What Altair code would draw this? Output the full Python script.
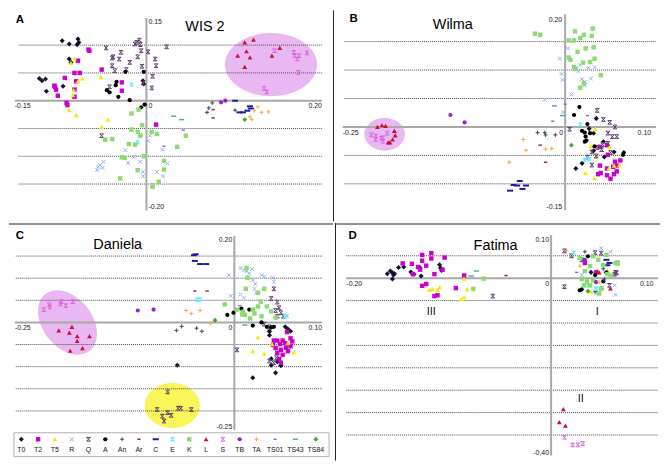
import altair as alt
import pandas as pd

CATS = ["T0", "T2", "T5", "R", "Q", "A", "An", "Ar", "C", "E", "K", "L", "S",
        "TB", "TA", "TS01", "TS43", "TS84"]

# ---------------- data (PC1, PC2 scores) ----------------
A_PTS = {
    "T0": [(-0.096, 0.108), (-0.088, 0.102), (-0.078, 0.111), (-0.077, 0.105), (-0.079, 0.101),
           (-0.088, 0.075), (-0.086, 0.069), (-0.122, 0.040), (-0.119, 0.036), (-0.115, 0.039),
           (-0.114, 0.017), (-0.095, 0.026), (-0.004, 0.036), (-0.003, 0.030)],
    "T2": [(-0.066, 0.092), (-0.065, 0.090), (-0.078, 0.072), (-0.082, 0.050), (-0.076, 0.050),
           (-0.093, 0.041), (-0.105, 0.027), (-0.104, 0.025), (-0.103, 0.020), (-0.101, 0.009),
           (-0.091, -0.004), (-0.090, -0.008), (-0.080, 0.035), (-0.082, 0.020), (-0.082, 0.007),
           (-0.051, 0.056), (-0.028, 0.033), (-0.028, 0.018), (0.011, -0.043)],
    "T5": [(-0.082, 0.076), (-0.086, 0.068), (-0.073, 0.040), (-0.052, 0.043), (-0.078, 0.035),
           (-0.083, 0.019), (-0.084, 0.010), (-0.088, -0.017), (-0.080, -0.026), (-0.044, -0.034),
           (-0.051, -0.047)],
    "R": [(-0.049, -0.110), (-0.053, -0.116), (-0.055, -0.119), (-0.056, -0.125), (-0.050, -0.121),
          (-0.024, -0.089), (-0.014, -0.101), (-0.021, -0.112), (-0.007, -0.110), (-0.002, -0.099),
          (0.002, -0.073), (0.004, -0.063), (0.012, -0.128), (-0.004, -0.128), (-0.004, -0.136),
          (0.019, -0.136), (0.024, -0.113), (0.007, -0.151), (0.018, -0.088)],
    "Q": [(-0.046, 0.095), (-0.029, 0.087), (-0.038, 0.079), (-0.039, 0.077), (-0.031, 0.075),
          (-0.019, 0.069), (-0.011, 0.105), (-0.008, 0.109), (-0.007, 0.101), (-0.013, 0.102),
          (-0.006, 0.090), (0.002, 0.088), (-0.010, 0.079), (-0.005, 0.062), (0.010, 0.075),
          (0.011, 0.063), (0.007, 0.044), (-0.004, 0.032), (-0.036, 0.054), (-0.039, 0.063),
          (-0.023, 0.056), (0.006, 0.023), (-0.042, 0.025), (0.023, 0.097), (-0.051, -0.063)],
    "A": [(-0.045, 0.019), (-0.042, 0.015), (-0.035, 0.028), (-0.034, 0.034), (-0.032, 0.007),
          (-0.024, 0.052), (-0.019, 0.001), (-0.003, 0.052), (-0.006, -0.012), (-0.002, -0.007)],
    "An": [(0.075, -0.004), (0.071, -0.013), (0.069, -0.021), (0.101, -0.017)],
    "Ar": [(0.076, -0.016), (0.076, -0.031)],
    "C": [(0.101, 0.000), (0.118, -0.010), (0.119, -0.014), (0.106, -0.021), (0.110, -0.021),
          (0.115, -0.018)],
    "E": [(-0.017, 0.029), (-0.010, -0.075)],
    "K": [(-0.017, -0.023), (-0.009, -0.016), (-0.005, -0.044), (-0.017, -0.052), (-0.010, -0.056),
          (-0.007, -0.063), (-0.020, -0.078), (-0.013, -0.079), (0.006, -0.056), (0.012, -0.060),
          (0.045, -0.063), (0.035, -0.083), (-0.028, -0.102), (-0.025, -0.103), (-0.003, -0.100),
          (0.020, -0.108), (-0.010, -0.125), (-0.030, -0.140), (0.020, -0.124), (0.014, -0.146),
          (0.007, -0.155), (-0.039, -0.069), (-0.047, -0.070)],
    "L": [(0.112, 0.105), (0.122, 0.110), (0.114, 0.089), (0.104, 0.081), (0.118, 0.078),
          (0.143, 0.081), (0.152, 0.095), (0.112, 0.061)],
    "S": [(0.146, 0.090), (0.168, 0.087), (0.174, 0.081), (0.169, 0.081), (0.172, 0.075),
          (0.183, 0.086), (0.173, 0.051), (0.134, 0.022), (0.137, 0.016)],
    "TB": [(0.085, -0.003), (0.090, 0.000)],
    "TA": [(0.127, -0.011), (0.123, -0.018), (0.131, -0.021), (0.139, -0.020), (0.118, -0.029),
           (0.120, -0.034)],
    "TS01": [(0.042, -0.053), (0.020, -0.082)],
    "TS43": [(0.031, -0.028), (0.040, -0.034)],
    "TS84": [(0.112, -0.034)],
}

B_PTS = {
    "T0": [(0.035, 0.015), (0.032, -0.011), (0.043, -0.026), (0.032, -0.042), (0.019, -0.064),
           (0.012, -0.073), (0.055, -0.044), (0.044, -0.053), (0.027, -0.003), (0.066, -0.045)],
    "T2": [(0.039, -0.035), (0.047, -0.032), (0.048, -0.049), (0.056, -0.061), (0.062, -0.059),
           (0.054, -0.070), (0.058, -0.068), (0.047, -0.073), (0.058, -0.078), (0.039, -0.068),
           (0.037, -0.083), (0.040, -0.081), (0.047, -0.085), (0.051, -0.091), (0.055, -0.083)],
    "T5": [(0.034, -0.004), (0.029, -0.034), (0.050, -0.035), (0.061, -0.067), (0.049, -0.073),
           (0.023, -0.081), (0.035, -0.052), (0.055, -0.068), (0.033, -0.090)],
    "R": [(0.003, 0.138), (-0.006, 0.120), (-0.004, 0.093), (-0.003, 0.083), (0.017, 0.109),
          (0.026, 0.104), (0.033, 0.105), (0.015, 0.098), (0.019, 0.084), (0.022, 0.079),
          (0.022, 0.073), (0.029, 0.085), (0.007, 0.057), (-0.023, 0.048), (-0.002, 0.026)],
    "Q": [(0.036, 0.029), (0.043, 0.013), (0.050, 0.008), (0.056, 0.000), (0.005, -0.004),
          (0.048, -0.011), (0.053, -0.017), (0.058, -0.017), (0.042, -0.031), (0.048, -0.029),
          (0.036, -0.036), (0.041, -0.040), (0.030, -0.044), (0.035, -0.051), (0.025, -0.053),
          (0.030, -0.067), (0.051, -0.045)],
    "A": [(0.016, 0.035), (0.010, 0.021), (0.025, 0.005), (0.019, -0.007), (0.022, -0.010),
          (0.023, -0.017), (0.024, -0.024), (0.022, -0.026), (0.028, -0.011), (0.033, -0.034),
          (0.065, -0.049)],
    "An": [(-0.031, -0.010), (-0.023, -0.010), (-0.022, -0.014), (-0.011, -0.014)],
    "Ar": [(-0.028, -0.032), (-0.022, -0.062)],
    "C": [(-0.051, -0.095), (-0.058, -0.102), (-0.054, -0.103), (-0.044, -0.103), (-0.062, -0.112),
          (-0.048, -0.109)],
    "E": [(0.017, 0.004), (0.022, -0.058), (0.027, -0.056)],
    "K": [(-0.034, 0.164), (-0.028, 0.162), (0.011, 0.168), (0.031, 0.173), (0.021, 0.162),
          (0.030, 0.160), (0.017, 0.156), (0.004, 0.152), (0.010, 0.152), (0.032, 0.140),
          (0.023, 0.138), (0.014, 0.132), (0.004, 0.122), (0.006, 0.118), (0.033, 0.120),
          (0.028, 0.114), (0.020, 0.113), (0.010, 0.105), (0.012, 0.102), (0.040, 0.091),
          (0.021, 0.077), (0.017, 0.069)],
    "L": [(-0.206, 0.003), (-0.202, 0.002), (-0.211, 0.000), (-0.192, -0.007), (-0.191, -0.015),
          (-0.194, -0.022), (-0.197, -0.027), (-0.199, -0.027)],
    "S": [(-0.218, -0.014), (-0.213, -0.016), (-0.213, -0.022), (-0.207, -0.020), (-0.205, -0.019),
          (-0.205, -0.025), (-0.200, -0.011)],
    "TB": [(-0.129, 0.021), (-0.113, 0.008)],
    "TA": [(-0.047, -0.022), (-0.044, -0.041), (-0.022, -0.039), (-0.015, -0.038), (-0.063, -0.062)],
    "TS01": [(0.000, 0.040), (-0.014, 0.010), (0.025, 0.020)],
    "TS43": [(-0.012, 0.037), (-0.003, 0.020)],
    "TS84": [(0.007, -0.032)],
}

C_PTS = {
    "T0": [(-0.065, -0.097), (0.058, -0.010), (0.061, -0.015), (0.064, -0.020), (0.040, -0.029),
           (0.042, -0.082), (0.049, -0.089), (0.053, -0.098), (0.042, -0.097), (0.047, -0.114),
           (0.021, -0.125)],
    "T2": [(0.060, -0.022), (0.064, -0.036), (0.045, -0.041), (0.049, -0.041), (0.055, -0.041),
           (0.044, -0.051), (0.052, -0.049), (0.058, -0.047), (0.047, -0.058), (0.053, -0.062),
           (0.059, -0.057), (0.064, -0.054), (0.049, -0.069), (0.055, -0.073), (0.061, -0.065),
           (0.051, -0.083), (0.053, -0.091), (0.066, -0.043)],
    "T5": [(0.027, -0.033), (0.021, -0.065), (0.034, -0.070), (0.068, -0.067), (0.043, -0.049),
           (0.061, -0.046)],
    "R": [(-0.006, 0.107), (0.007, 0.123), (0.011, 0.118), (0.014, 0.116), (0.020, 0.121),
          (0.017, 0.111), (0.021, 0.096), (0.024, 0.087), (0.023, 0.076), (0.031, 0.107),
          (0.034, 0.104), (0.044, 0.101), (0.045, 0.092), (-0.004, 0.060), (0.011, 0.056),
          (0.007, 0.063), (0.060, 0.014), (0.025, 0.067)],
    "Q": [(-0.076, -0.157), (-0.088, -0.197), (-0.082, -0.212), (-0.080, -0.223), (-0.076, -0.204),
          (-0.072, -0.210), (-0.064, -0.194), (-0.061, -0.194), (-0.049, -0.197), (0.045, 0.076),
          (0.042, 0.054), (0.049, 0.046), (0.051, 0.033), (0.047, 0.027), (0.053, 0.022),
          (0.056, 0.014), (0.049, 0.014), (0.003, -0.062), (0.040, -0.087), (0.045, -0.091),
          (0.048, -0.080), (0.034, -0.004), (0.040, -0.010)],
    "A": [(-0.008, 0.017), (-0.001, 0.022), (0.008, 0.031), (0.017, 0.029), (0.021, -0.007),
          (0.031, 0.000), (0.037, -0.010), (0.042, -0.011), (0.045, -0.010), (0.040, -0.020)],
    "An": [(-0.066, -0.018), (-0.060, -0.009), (-0.043, -0.013), (-0.037, -0.020)],
    "Ar": [(-0.045, 0.071), (-0.031, 0.071)],
    "C": [(-0.044, 0.154), (-0.046, 0.152), (-0.045, 0.139), (-0.039, 0.132), (-0.032, 0.132)],
    "E": [(-0.042, 0.051), (-0.039, 0.052), (0.058, 0.014)],
    "K": [(0.014, 0.123), (0.015, 0.101), (0.013, 0.076), (0.027, 0.067), (0.034, 0.076),
          (-0.011, 0.041), (0.003, 0.029), (0.010, 0.024), (0.009, 0.018), (0.012, 0.017),
          (0.021, 0.029), (0.027, 0.036), (0.023, 0.020), (0.031, 0.014), (0.042, 0.025),
          (0.037, 0.036), (0.047, 0.011), (0.018, 0.009), (0.030, 0.047)],
    "L": [(-0.185, -0.010), (-0.200, -0.018), (-0.188, -0.023), (-0.179, -0.031), (-0.165, -0.031),
          (-0.179, -0.042), (-0.173, -0.058), (-0.187, -0.064)],
    "S": [(-0.217, 0.029), (-0.211, 0.040), (-0.210, 0.035), (-0.198, 0.042), (-0.197, 0.047),
          (-0.192, 0.038), (-0.184, 0.047)],
    "TB": [(-0.110, 0.027), (-0.092, 0.029)],
    "TA": [(-0.055, 0.027), (-0.049, 0.020), (-0.039, 0.027), (-0.027, -0.002)],
    "TS01": [(0.006, 0.038)],
    "TS43": [(0.012, -0.006)],
    "TS84": [(-0.022, 0.005)],
}

D_PTS = {
    "T0": [(-0.160, 0.010), (-0.157, 0.016), (-0.155, 0.012), (-0.154, 0.007), (-0.153, 0.010),
           (-0.155, -0.002), (-0.149, 0.024), (-0.144, 0.025), (-0.137, 0.014), (-0.134, 0.009),
           (-0.127, 0.005), (-0.128, 0.023), (-0.109, 0.030), (-0.108, 0.023), (-0.107, 0.017),
           (0.030, -0.025), (0.049, -0.023), (0.039, 0.013)],
    "T2": [(-0.126, 0.052), (-0.117, 0.056), (-0.117, 0.044), (-0.104, 0.046), (-0.145, 0.033),
           (-0.136, 0.032), (-0.126, 0.039), (-0.122, 0.028), (-0.130, 0.025), (-0.128, 0.019),
           (-0.135, 0.009), (-0.114, 0.009), (-0.106, 0.019), (-0.126, -0.017), (-0.122, -0.013),
           (-0.093, -0.022), (-0.114, -0.040), (-0.111, -0.038), (-0.085, 0.006), (0.033, 0.034),
           (0.044, 0.013)],
    "T5": [(-0.119, -0.026), (-0.116, -0.024), (-0.111, -0.026), (-0.109, -0.020), (-0.085, -0.001),
           (-0.082, -0.025), (-0.088, -0.047), (-0.085, -0.042), (0.039, -0.030), (0.035, -0.009),
           (0.055, 0.016)],
    "R": [(0.049, 0.067), (0.062, -0.016), (0.063, -0.037), (0.030, 0.007), (0.058, 0.059),
          (0.052, -0.009), (0.044, -0.034)],
    "Q": [(0.013, 0.061), (0.065, 0.034), (0.063, 0.013), (0.013, -0.019), (0.043, 0.057),
          (0.030, 0.041), (0.057, -0.016), (0.062, 0.009), (0.049, 0.056), (0.064, 0.012),
          (-0.057, -0.040), (0.020, 0.050)],
    "A": [(0.036, 0.049), (0.043, 0.007), (0.028, -0.027), (0.051, -0.007), (0.054, 0.013)],
    "An": [(0.033, 0.059), (0.051, 0.021), (0.052, -0.002), (0.043, -0.030)],
    "Ar": [(-0.044, 0.006)],
    "C": [(0.054, 0.041), (0.057, 0.034), (0.055, 0.029)],
    "E": [(0.022, 0.057), (0.044, -0.023), (0.036, -0.016)],
    "K": [(-0.066, -0.001), (-0.076, -0.024), (0.028, 0.045), (0.041, 0.049), (0.054, 0.052),
          (0.051, 0.029), (0.063, 0.034), (0.030, -0.002), (0.035, -0.007), (0.041, -0.005),
          (0.055, 0.009), (0.058, 0.006), (0.038, -0.016), (0.049, -0.023), (0.032, -0.016),
          (0.047, -0.034), (0.038, 0.027), (0.046, 0.041), (0.033, 0.016), (0.065, 0.033)],
    "L": [(0.012, -0.292), (0.008, -0.321), (0.014, -0.329), (0.045, 0.016), (0.047, 0.013),
          (0.058, -0.023)],
    "S": [(0.013, -0.355), (0.021, -0.372), (0.026, -0.372), (0.031, -0.369)],
    "TB": [(0.044, -0.009), (0.033, 0.041)],
    "TA": [(0.028, 0.027), (0.047, -0.009), (0.015, 0.062)],
    "TS01": [(0.025, 0.013)],
    "TS43": [(-0.078, 0.005), (-0.073, 0.016)],
    "TS84": [(0.036, -0.029)],
}

# ---------------- styles ----------------
X_PATH = "M-1,-1L1,1M-1,1L1,-1"
HG_PATH = "M-1,-1L1,1M-1,1L1,-1M-1,-1L1,-1M-1,1L1,1"
PLUS_PATH = "M-1,0L1,0M0,-1L0,1"
DASH_PATH = "M-1,0L1,0"
AST_PATH = "M-1,-1L1,1M-1,1L1,-1M0,-1.2L0,1.2"

STYLE = {  # shape, fill, stroke, size, strokeWidth
    "T0": ("diamond", "#101030", "#101030", 26, 0),
    "T2": ("square", "#cc00cc", "#cc00cc", 20, 0),
    "T5": ("triangle-up", "#f2ea00", "#f2ea00", 24, 0),
    "R": (X_PATH, "transparent", "#8fb0e8", 14, 1),
    "Q": (HG_PATH, "transparent", "#5e3d6e", 14, 1),
    "A": ("circle", "#000000", "#000000", 18, 0),
    "An": (PLUS_PATH, "transparent", "#2f4f4f", 16, 1),
    "Ar": (DASH_PATH, "transparent", "#993344", 12, 1.5),
    "C": (DASH_PATH, "transparent", "#1c1ca0", 36, 2),
    "E": (AST_PATH, "transparent", "#66f0ff", 16, 1.2),
    "K": ("square", "#8cdb72", "#8cdb72", 20, 0),
    "L": ("triangle-up", "#cc1133", "#cc1133", 24, 0),
    "S": (HG_PATH, "transparent", "#dd66dd", 14, 1),
    "TB": ("circle", "#9922cc", "#9922cc", 18, 0),
    "TA": (PLUS_PATH, "transparent", "#f0a850", 16, 1),
    "TS01": (DASH_PATH, "transparent", "#9966cc", 10, 1.5),
    "TS43": (DASH_PATH, "transparent", "#5aa5a5", 25, 1.5),
    "TS84": ("diamond", "#3aa828", "#3aa828", 24, 0),
}
SHAPES = [STYLE[c][0] for c in CATS]
FILLS = [STYLE[c][1] for c in CATS]
STROKES = [STYLE[c][2] for c in CATS]

FONT = "Liberation Sans"
LAB = 7


def sym_enc():
    return dict(
        shape=alt.Shape("cat:N", scale=alt.Scale(domain=CATS, range=SHAPES), legend=None),
        fill=alt.Fill("cat:N", scale=alt.Scale(domain=CATS, range=FILLS), legend=None),
        stroke=alt.Stroke("cat:N", scale=alt.Scale(domain=CATS, range=STROKES), legend=None),
        size=alt.Size("sz:Q", scale=None),
        strokeWidth=alt.StrokeWidth("sw:Q", scale=None),
    )


def table(pts):
    rows = []
    for c in CATS:
        for (x, y) in pts.get(c, []):
            rows.append({"cat": c, "x": x, "y": y, "sz": STYLE[c][3], "sw": STYLE[c][4]})
    return pd.DataFrame(rows)


def panel(pts, xdom, ydom, W, H, grid_y, grid_x, hax, vax, labels, ellipses,
          title, letter, romans=(), vsep=False, hsep=False):
    xs = alt.Scale(domain=xdom, nice=False, zero=False)
    ys = alt.Scale(domain=ydom, nice=False, zero=False)

    def X(f):
        return alt.X(f, scale=xs, axis=None)

    def Y(f):
        return alt.Y(f, scale=ys, axis=None)

    layers = []
    if hsep:
        layers.append(alt.Chart(pd.DataFrame({"a": [0]})).mark_rule(color="#8f8f8f", strokeWidth=2)
                      .encode(x=alt.value(0), x2=alt.value(W), y=alt.value(1)))
    for (cx, cy, w, h, col, ang) in ellipses:
        r = h / w
        path = f"M-1,0A1,{r:.3f},0,1,0,1,0A1,{r:.3f},0,1,0,-1,0Z"
        layers.append(alt.Chart(pd.DataFrame({"x": [cx], "y": [cy]}))
                      .mark_point(shape=path, size=w * w, filled=True, fill=col, opacity=1,
                                  strokeWidth=0, angle=ang)
                      .encode(x=X("x:Q"), y=Y("y:Q")))
    gdf = pd.DataFrame({"y": grid_y, "x0": [grid_x[0]] * len(grid_y), "x1": [grid_x[1]] * len(grid_y)})
    layers.append(alt.Chart(gdf).mark_rule(color="#4a4a4a", strokeDash=[1, 1], strokeWidth=1)
                  .encode(x=X("x0:Q"), x2="x1:Q", y=Y("y:Q")))
    adf = pd.DataFrame({"x0": [hax[0], 0], "x1": [hax[1], 0], "y0": [0, vax[0]], "y1": [0, vax[1]]})
    layers.append(alt.Chart(adf).mark_rule(color="#a8a8a8", strokeWidth=2)
                  .encode(x=X("x0:Q"), x2="x1:Q", y=Y("y0:Q"), y2="y1:Q"))
    layers.append(alt.Chart(table(pts)).mark_point(filled=True, opacity=1)
                  .encode(x=X("x:Q"), y=Y("y:Q"), **sym_enc()))
    for (x, y, t, al, bl, dx, dy) in labels:
        layers.append(alt.Chart(pd.DataFrame({"x": [x], "y": [y], "t": [t]}))
                      .mark_text(align=al, baseline=bl, dx=dx, dy=dy, fontSize=LAB, font=FONT,
                                 color="#222222")
                      .encode(x=X("x:Q"), y=Y("y:Q"), text="t:N"))
    tx, ty, tt = title
    layers.append(alt.Chart(pd.DataFrame({"x": [tx], "y": [ty], "t": [tt]}))
                  .mark_text(align="center", baseline="middle", fontSize=14.5, font=FONT, color="#000")
                  .encode(x=X("x:Q"), y=Y("y:Q"), text="t:N"))
    lx, ly, lt = letter
    layers.append(alt.Chart(pd.DataFrame({"x": [lx], "y": [ly], "t": [lt]}))
                  .mark_text(align="left", baseline="middle", fontSize=11.5, fontWeight="bold",
                             font=FONT, color="#000")
                  .encode(x=X("x:Q"), y=Y("y:Q"), text="t:N"))
    for (rx, ry, rt) in romans:
        layers.append(alt.Chart(pd.DataFrame({"x": [rx], "y": [ry], "t": [rt]}))
                      .mark_text(align="center", baseline="middle", fontSize=11, font=FONT, color="#111")
                      .encode(x=X("x:Q"), y=Y("y:Q"), text="t:N"))
    if vsep:
        layers.append(alt.Chart(pd.DataFrame({"a": [0]})).mark_rule(color="#222222", strokeWidth=1)
                      .encode(x=alt.value(0.5), y=alt.value(0), y2=alt.value(H)))
    return alt.layer(*layers).properties(width=W, height=H)


W1, W2 = 326, 327
H_TOP, H_C, H_LEG = 212, 209, 30
H_BOT = H_C + H_LEG

ELL_PINK = "#e9b8f2"
ELL_YEL = "#f9f65a"

pA = panel(A_PTS, [-0.1566, 0.2126], [-0.2167, 0.1626], W1, H_TOP,
           [0.10, 0.05, -0.05, -0.10, -0.15], (-0.1456, 0.200), (-0.150, 0.200), (0.149, -0.198),
           [(-0.150, 0, "-0.15", "left", "top", 0, 1.5),
            (0.200, 0, "0.20", "right", "top", 0, 1.5),
            (0, 0, "0", "left", "top", 2, 1.5),
            (0, 0.150, "0.15", "left", "top", 2, 1),
            (0, -0.200, "-0.20", "left", "bottom", 2, -2)],
           [(0.142, 0.065, 92.7, 63.7, ELL_PINK, 0)],
           (0.0667, 0.1324, "WIS 2"), (-0.1489, 0.1453, "A"))

pB = panel(B_PTS, [-0.2610, 0.1044], [-0.1655, 0.2049], W2, H_TOP,
           [0.15, 0.10, 0.05, -0.05, -0.10], (-0.248, 0.102), (-0.250, 0.102), (0.198, -0.146),
           [(-0.250, 0, "-0.25", "left", "top", 0, 2),
            (0.100, 0, "0.10", "right", "top", -3, 2),
            (0, 0, "0", "right", "top", -2, 2),
            (0, 0.200, "0.20", "right", "top", -3, 3),
            (0, -0.148, "-0.15", "right", "bottom", -3, -1)],
           [(-0.203, -0.013, 41.0, 32.8, ELL_PINK, 0)],
           (-0.1263, 0.1796, "Wilma"), (-0.2424, 0.1897, "B"), vsep=True)

pC = panel(C_PTS, [-0.2567, 0.1124], [-0.2450, 0.2246], W1, H_C,
           [0.15, 0.10, 0.05, -0.05, -0.10, -0.15, -0.20], (-0.249, 0.1002), (-0.250, 0.100),
           (0.196, -0.243),
           [(-0.250, 0, "-0.25", "left", "top", 0, 2),
            (0.100, 0, "0.10", "right", "top", 0, 2),
            (0, 0, "0", "right", "top", -2, 2),
            (0, 0.200, "0.20", "right", "top", -2, 2),
            (0, -0.245, "-0.25", "right", "bottom", -2, -1)],
           [(-0.190, 0.000, 72.6, 49.7, ELL_PINK, 52),
            (-0.0707, -0.188, 55.6, 45.4, ELL_YEL, 0)],
           (-0.1329, 0.1757, "Daniela"), (-0.2490, 0.1952, "C"), hsep=True)

pD = panel(D_PTS, [-0.2111, 0.1064], [-0.4071, 0.1230], W2, H_BOT,
           [0.05, -0.05, -0.10, -0.15, -0.20, -0.25, -0.30, -0.35], (-0.200, 0.1045),
           (-0.200, 0.1045), (0.096, -0.396),
           [(-0.200, 0, "-0.20", "left", "top", 0, 2),
            (0.100, 0, "0.10", "right", "top", 0, 2),
            (0, 0, "0", "right", "top", -2, 2),
            (0, 0.100, "0.10", "right", "top", -2, 3),
            (0, -0.400, "-0,40", "right", "bottom", -2, -1)],
           [],
           (-0.0542, 0.0725, "Fatima"), (-0.1978, 0.0951, "D"),
           romans=[(-0.117, -0.076, "III"), (0.045, -0.076, "I"), (0.029, -0.270, "II")],
           vsep=True, hsep=True)

# ---------------- legend (entries flow left to right; long labels get wider slots) ----------------
slot = [16.9 if len(c) <= 2 else 20.5 for c in CATS]
pos = [12.4]
for i in range(1, len(CATS)):
    pos.append(pos[-1] + (slot[i - 1] + slot[i]) / 2)
leg_df = pd.DataFrame({"cat": CATS, "lx": pos,
                       "sz": [STYLE[c][3] for c in CATS], "sw": [STYLE[c][4] for c in CATS]})
lx = alt.X("lx:Q", scale=None, axis=None)
leg_box = alt.Chart(pd.DataFrame({"a": [0]})).mark_rect(fill="white", stroke="#b0b0b0", strokeWidth=1).encode(
    x=alt.value(5), x2=alt.value(322), y=alt.value(1), y2=alt.value(25))
leg_sym = alt.Chart(leg_df).mark_point(filled=True, opacity=1).encode(x=lx, y=alt.value(7.5), **sym_enc())
leg_txt = alt.Chart(leg_df).mark_text(fontSize=LAB, font=FONT, color="#111", baseline="middle").encode(
    x=lx, y=alt.value(18), text="cat:N")
legend = alt.layer(leg_box, leg_sym, leg_txt).properties(width=W1, height=H_LEG)

top = alt.hconcat(pA, pB, spacing=0).resolve_scale(x="independent", y="independent")
left_bottom = alt.vconcat(pC, legend, spacing=0).resolve_scale(x="independent", y="independent")
bottom = alt.hconcat(left_bottom, pD, spacing=0).resolve_scale(x="independent", y="independent")
chart = (alt.vconcat(top, bottom, spacing=0)
         .resolve_scale(x="independent", y="independent")
         .properties(padding=0)
         .configure_view(stroke=None))

chart.save("out.html", embed_options={"renderer": "svg", "actions": False})
